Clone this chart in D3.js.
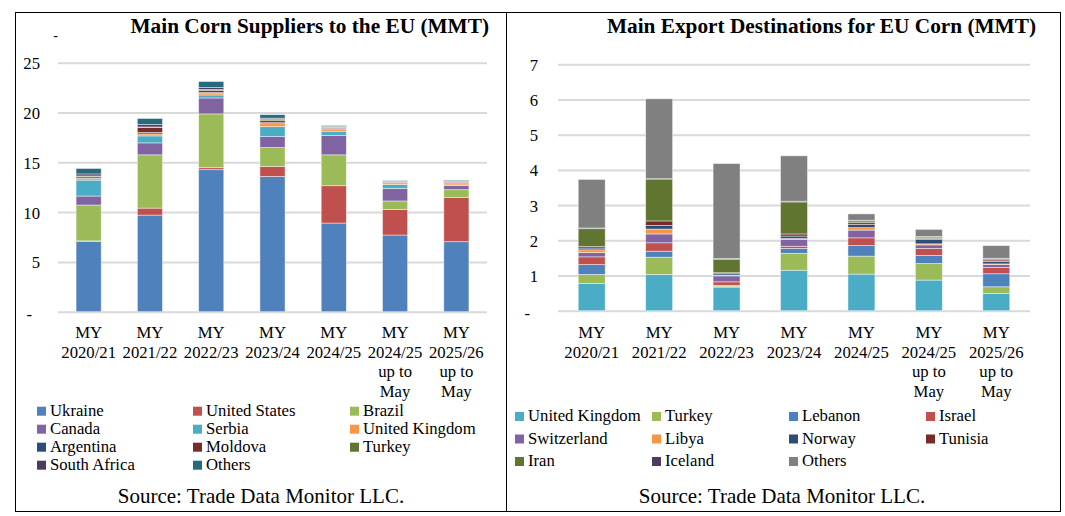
<!DOCTYPE html>
<html>
<head>
<meta charset="utf-8">
<script src="https://cdn.jsdelivr.net/npm/d3@7"></script>
<style>
  body { margin: 0; background: #fff; }
  svg { display: block; }
  svg text { font-family: "Liberation Serif", "Times New Roman", serif; fill: #000; }
</style>
</head>
<body>
<svg id="chart"></svg>
<script>
// market years (lines of each tick label)
const years = ['MY|2020/21', 'MY|2021/22', 'MY|2022/23', 'MY|2023/24', 'MY|2024/25', 'MY|2024/25|up to|May', 'MY|2025/26|up to|May'];

// suppliers to the EU, MMT
const supplierNames = ['Ukraine', 'United States', 'Brazil', 'Canada', 'Serbia', 'United Kingdom', 'Argentina', 'Moldova', 'Turkey', 'South Africa', 'Others'];
const ukraine      = [7.06, 9.70, 14.26, 13.58, 8.90, 7.70, 7.03];
const unitedStates = [0.05, 0.70, 0.20, 1.00, 3.75, 2.57, 4.45];
const brazil       = [3.60, 5.35, 5.40, 1.90, 3.10, 0.85, 0.77];
const canada       = [0.90, 1.20, 1.60, 1.10, 1.94, 1.25, 0.43];
const serbia       = [1.60, 0.70, 0.30, 1.00, 0.43, 0.40, 0.05];
const ukSupplier   = [0.17, 0.20, 0.15, 0.30, 0.23, 0.17, 0.20];
const argentina    = [0.05, 0.15, 0.10, 0.10, 0.05, 0.03, 0.03];
const moldova      = [0.15, 0.50, 0.20, 0.20, 0.10, 0.05, 0.08];
const turkeySupp   = [0.05, 0.05, 0.10, 0.15, 0.05, 0.03, 0.03];
const southAfrica  = [0.20, 0.25, 0.20, 0.10, 0.05, 0.05, 0.05];
const othersSupp   = [0.55, 0.60, 0.60, 0.35, 0.09, 0.07, 0.08];
const supplierTicks = [0, 5, 10, 15, 20, 25];

// export destinations for EU corn, MMT
const destNames = ['United Kingdom', 'Turkey', 'Lebanon', 'Israel', 'Switzerland', 'Libya', 'Norway', 'Tunisia', 'Iran', 'Iceland', 'Others'];
const ukDest      = [0.77, 1.03, 0.67, 1.15, 1.04, 0.87, 0.49];
const turkeyDest  = [0.26, 0.49, 0.03, 0.48, 0.51, 0.47, 0.19];
const lebanon     = [0.28, 0.17, 0.02, 0.14, 0.30, 0.23, 0.37];
const israel      = [0.22, 0.24, 0.10, 0.06, 0.22, 0.20, 0.18];
const switzerland = [0.12, 0.25, 0.17, 0.20, 0.22, 0.10, 0.08];
const libya       = [0.08, 0.14, 0.02, 0.02, 0.07, 0.03, 0.02];
const norway      = [0.05, 0.10, 0.04, 0.07, 0.09, 0.12, 0.07];
const tunisia     = [0.04, 0.13, 0.03, 0.06, 0.05, 0.03, 0.04];
const iran        = [0.51, 1.19, 0.38, 0.91, 0.05, 0.04, 0.03];
const iceland     = [0.02, 0.01, 0.02, 0.02, 0.02, 0.02, 0.02];
const othersDest  = [1.38, 2.27, 2.70, 1.29, 0.18, 0.20, 0.36];
const destTicks = [0, 1, 2, 3, 4, 5, 6, 7];

const palette = ['#4F81BD', '#C0504D', '#9BBB59', '#8064A2', '#4BACC6', '#F79646', '#2C4D75', '#772C2A', '#5F7530', '#4D3B62'];
const supplierColors = palette.concat(['#276A7C']);
const destColors = ['#4BACC6', '#9BBB59', '#4F81BD', '#C0504D', '#8064A2', '#F79646', '#2C4D75', '#772C2A', '#5F7530', '#4D3B62', '#808080'];

const W = 1065, H = 516;
const svg = d3.select('#chart').attr('width', W).attr('height', H);
const fs = 16.7;

function buildRows(names, series) {
  return years.map((y, i) => {
    const row = {year: y};
    names.forEach((n, k) => { row[n] = series[k][i]; });
    return row;
  });
}

function drawPanel(p) {
  const rows = buildRows(p.names, p.series);
  const stacked = d3.stack().keys(p.names)(rows);

  // frame
  svg.append('rect')
      .attr('x', p.box[0] + 0.5).attr('y', p.box[1] + 0.5)
      .attr('width', p.box[2] - p.box[0]).attr('height', p.box[3] - p.box[1])
      .attr('fill', 'none').attr('stroke', '#000').attr('stroke-width', 1);

  const x = d3.scaleBand().domain(years).range([p.x0, p.x1])
      .paddingInner(p.pad).paddingOuter(p.pad / 2);
  const y = d3.scaleLinear().domain([0, d3.max(p.ticks)]).range([p.yBase, p.yTop]);

  // gridlines
  const grid = svg.append('g').attr('transform', 'translate(' + p.x0 + ',0)')
      .call(d3.axisLeft(y).tickValues(p.ticks).tickSize(-(p.x1 - p.x0)).tickFormat(''));
  grid.select('.domain').remove();
  grid.selectAll('line').attr('stroke', '#D9D9D9').attr('stroke-width', 2);

  // y labels
  const yAxis = svg.append('g').attr('transform', 'translate(' + p.x0 + ',0)')
      .call(d3.axisLeft(y).tickValues(p.ticks).tickSize(0).tickPadding(p.x0 - p.labelRight)
        .tickFormat(d => d === 0 ? '-' : d));
  yAxis.attr('font-family', null).attr('font-size', null);
  yAxis.select('.domain').remove();
  yAxis.selectAll('text').attr('font-size', fs).attr('fill', '#000').attr('dy', '0.36em');
  yAxis.selectAll('.tick').filter(d => d === 0).select('text')
      .attr('x', -(p.x0 - p.labelRight) - 8).attr('dy', '0.45em');

  // bars
  svg.append('g').selectAll('g').data(stacked).join('g')
      .attr('fill', (d, i) => p.colors[i])
    .selectAll('rect').data(d => d).join('rect')
      .attr('x', d => x(d.data.year))
      .attr('width', x.bandwidth())
      .attr('y', d => y(d[1]))
      .attr('height', d => Math.max(0, y(d[0]) - y(d[1])))
      .attr('stroke', '#fff').attr('stroke-opacity', 0.55).attr('stroke-width', 0.8);

  // x labels
  const xl = svg.append('g');
  years.forEach(yr => {
    const t = xl.append('text').attr('text-anchor', 'middle').attr('font-size', fs)
        .attr('x', x(yr) + x.bandwidth() / 2);
    yr.split('|').forEach((line, k) => {
      t.append('tspan').attr('x', x(yr) + x.bandwidth() / 2).attr('y', 338 + k * 19.5).text(line);
    });
  });

  // title
  svg.append('text').attr('x', p.titleRight).attr('y', 33).attr('text-anchor', 'end')
      .attr('font-size', 21.3).attr('font-weight', 'bold').text(p.title);

  // legend
  const lg = svg.append('g');
  p.names.forEach((n, i) => {
    const col = i % p.legendCols.length, row = Math.floor(i / p.legendCols.length);
    const lx = p.legendCols[col], ly = p.legendY + row * p.legendStep;
    lg.append('rect').attr('x', lx).attr('y', ly - 9).attr('width', 9).attr('height', 9)
        .attr('fill', p.colors[i]);
    lg.append('text').attr('x', lx + 13).attr('y', ly).attr('font-size', fs).text(n);
  });

  // source
  svg.append('text').attr('x', p.sourceX).attr('y', 503).attr('text-anchor', 'middle')
      .attr('font-size', 21).text('Source: Trade Data Monitor LLC.');
}

drawPanel({
  title: 'Main Corn Suppliers to the EU (MMT)',
  names: supplierNames,
  series: [ukraine, unitedStates, brazil, canada, serbia, ukSupplier, argentina, moldova, turkeySupp, southAfrica, othersSupp],
  colors: supplierColors,
  ticks: supplierTicks,
  box: [15, 12, 506, 511],
  x0: 58, x1: 487, pad: 0.59,
  yBase: 311.7, yTop: 62.7,
  labelRight: 40,
  titleRight: 489,
  legendCols: [37, 193, 350], legendY: 415.7, legendStep: 18,
  sourceX: 261
});

drawPanel({
  title: 'Main Export Destinations for EU Corn (MMT)',
  names: destNames,
  series: [ukDest, turkeyDest, lebanon, israel, switzerland, libya, norway, tunisia, iran, iceland, othersDest],
  colors: destColors,
  ticks: destTicks,
  box: [506, 12, 1060, 511],
  x0: 558, x1: 1030, pad: 0.6,
  yBase: 310.7, yTop: 64.3,
  labelRight: 538,
  titleRight: 1036,
  legendCols: [515, 652, 789, 926], legendY: 421, legendStep: 22.5,
  sourceX: 782
});

// stray tick mark above the left axis
svg.append('text').attr('x', 55.5).attr('y', 40).attr('text-anchor', 'middle')
    .attr('font-size', 14).text('-');
</script>
</body>
</html>
